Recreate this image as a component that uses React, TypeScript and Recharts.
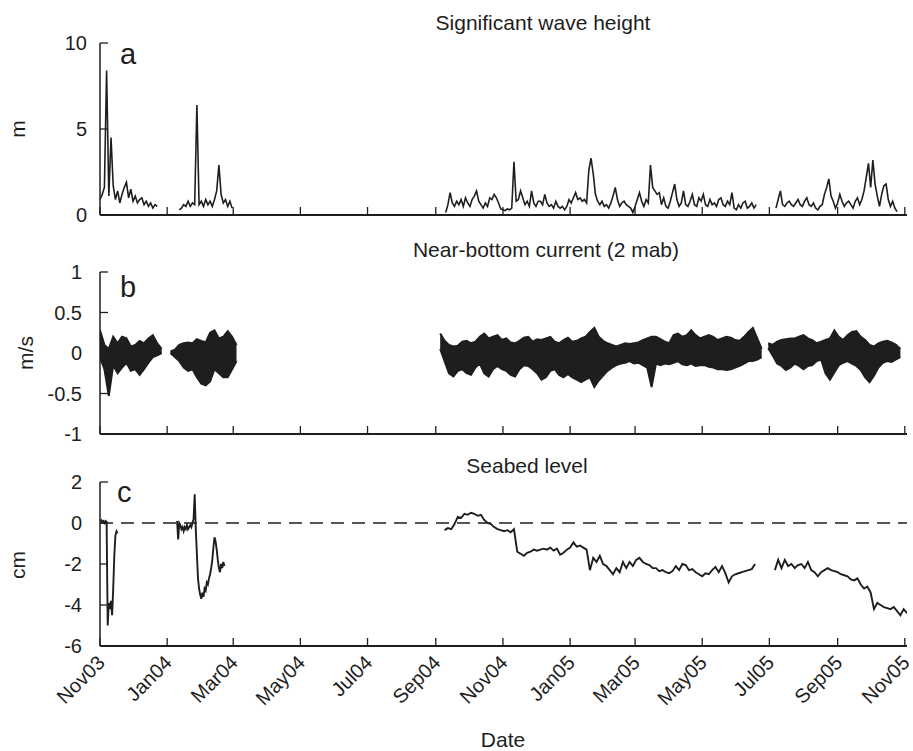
import React from 'react'
import { ComposedChart, Line, Area, XAxis, YAxis, ReferenceLine } from 'recharts'

const FONT = '"Liberation Sans", Arial, Helvetica, sans-serif'
const INK = '#1e1e1e'

// x axis: days since 1 Nov 2003
const dateTicks = [0, 61, 121, 182, 243, 305, 366, 427, 486, 547, 608, 670, 731]
const dateLabels = ['Nov03', 'Jan04', 'Mar04', 'May04', 'Jul04', 'Sep04', 'Nov04', 'Jan05', 'Mar05', 'May05', 'Jul05', 'Sep05', 'Nov05']

// (a) significant wave height, m — one value every 2 days per deployment
const waveStep = 2
const waveStarts = [0, 72, 314, 614]
const waveSeg1 = [0.9, 1.2, 1.6, 8.4, 1.1, 4.5, 1.7, 0.9, 1.4, 0.7, 1.2, 1.6, 1.9, 1.0, 1.5, 0.8, 1.1, 0.7, 0.9, 1.0, 0.6, 0.8, 0.5, 0.7, 0.4, 0.6, 0.5]
const waveSeg2 = [0.3, 0.4, 0.6, 0.5, 0.8, 0.5, 0.7, 0.6, 6.4, 0.6, 0.8, 0.5, 0.9, 0.6, 0.8, 0.5, 0.9, 1.4, 2.9, 1.2, 0.7, 0.9, 0.5, 0.8, 0.4]
const waveSeg3 = [
  0.15, 0.6, 1.3, 0.7, 0.5, 0.8, 0.6, 0.9, 0.5, 1.0, 0.7, 0.5, 0.9, 1.1, 1.4, 0.8, 0.6, 0.4, 0.7, 0.5,
  1.0, 0.9, 1.2, 1.0, 0.7, 0.35, 0.3, 0.25, 0.35, 0.3, 0.4, 3.1, 0.8, 0.9, 1.4, 1.0, 0.6, 0.8, 0.5, 1.4,
  0.7, 0.5, 0.8, 0.8, 0.6, 1.2, 0.7, 0.5, 0.6, 0.4, 0.8, 0.5, 0.4, 0.5, 0.3, 0.5, 0.9, 0.7, 1.0, 1.3,
  0.9, 1.0, 0.8, 0.9, 0.7, 2.6, 3.3, 2.4, 1.2, 0.8, 0.6, 0.8, 0.5, 0.6, 0.4, 0.7, 1.1, 1.6, 0.9, 0.5,
  0.7, 0.8, 0.6, 0.5, 0.4, 0.15, 0.5, 0.9, 1.3, 0.8, 0.5, 0.9, 0.7, 2.9, 1.6, 1.4, 1.2, 1.3, 0.6, 1.0,
  0.5, 0.4, 0.8, 1.3, 1.8, 0.9, 0.5, 0.7, 1.4, 0.6, 0.5, 0.8, 1.2, 0.6, 0.5, 1.0, 0.8, 1.2, 0.6, 0.5,
  0.9, 0.6, 0.7, 0.5, 0.9, 1.0, 0.6, 0.5, 0.8, 0.6, 1.3, 0.4, 0.3, 0.6, 0.4, 0.7, 0.8, 0.4, 0.5, 0.7,
  0.4, 0.6,
]
const waveSeg4 = [
  0.4, 0.9, 1.4, 0.6, 0.5, 0.7, 0.8, 0.6, 0.5, 0.7, 0.9, 0.6, 0.5, 0.8, 1.0, 0.6, 0.5, 0.7, 0.4, 0.3,
  0.5, 0.6, 1.2, 1.6, 2.1, 1.1, 0.8, 0.4, 0.7, 1.2, 0.8, 0.5, 0.7, 0.8, 0.6, 0.4, 0.8, 1.0, 0.6, 0.9,
  1.4, 2.2, 3.0, 1.6, 3.2, 1.8, 1.1, 0.5, 1.2, 1.7, 1.8, 0.9, 0.5, 0.8, 0.4, 0.2,
]

// (b) near-bottom current, m/s — envelope (min / max) every 4 days
const curStep = 4
const curStarts = [0, 64, 309, 607]
const curHi1 = [0.28, 0.1, 0.05, 0.2, 0.12, 0.2, 0.18, 0.08, 0.1, 0.15, 0.12, 0.18, 0.22, 0.12, 0.05]
const curLo1 = [-0.05, -0.2, -0.53, -0.15, -0.25, -0.18, -0.12, -0.22, -0.2, -0.27, -0.2, -0.12, -0.05, -0.03, 0.0]
const curHi2 = [0.02, 0.04, 0.1, 0.12, 0.13, 0.12, 0.17, 0.15, 0.13, 0.25, 0.28, 0.18, 0.2, 0.27, 0.2, 0.1]
const curLo2 = [0.0, -0.05, -0.1, -0.18, -0.22, -0.2, -0.3, -0.38, -0.4, -0.35, -0.2, -0.25, -0.3, -0.3, -0.2, -0.1]
const curHi3 = [
  0.24, 0.15, 0.1, 0.08, 0.09, 0.14, 0.15, 0.12, 0.14, 0.2, 0.24, 0.18, 0.2, 0.22, 0.16, 0.18, 0.13, 0.12, 0.15, 0.19,
  0.2, 0.14, 0.17, 0.16, 0.18, 0.2, 0.14, 0.12, 0.16, 0.19, 0.14, 0.15, 0.18, 0.2, 0.26, 0.31, 0.2, 0.15, 0.12, 0.1,
  0.08, 0.1, 0.12, 0.11, 0.12, 0.13, 0.16, 0.18, 0.2, 0.2, 0.17, 0.14, 0.12, 0.22, 0.24, 0.2, 0.22, 0.28, 0.22, 0.18,
  0.2, 0.22, 0.2, 0.16, 0.18, 0.2, 0.19, 0.16, 0.15, 0.2, 0.26, 0.31, 0.18, 0.05,
]
const curLo3 = [
  0.05, -0.1, -0.25, -0.29, -0.22, -0.2, -0.25, -0.27, -0.18, -0.13, -0.25, -0.29, -0.2, -0.16, -0.2, -0.22, -0.27, -0.29, -0.2, -0.15,
  -0.16, -0.2, -0.25, -0.33, -0.3, -0.22, -0.2, -0.27, -0.3, -0.26, -0.3, -0.33, -0.36, -0.33, -0.3, -0.42, -0.34, -0.28, -0.22, -0.18,
  -0.15, -0.13, -0.12, -0.1, -0.13, -0.12, -0.15, -0.18, -0.42, -0.13, -0.15, -0.13, -0.14, -0.12, -0.1, -0.14, -0.15, -0.13, -0.16, -0.15,
  -0.15, -0.17, -0.18, -0.2, -0.2, -0.21, -0.2, -0.18, -0.16, -0.13, -0.1, -0.1, -0.08, -0.05,
]
const curHi4 = [
  0.12, 0.1, 0.14, 0.16, 0.17, 0.18, 0.18, 0.2, 0.22, 0.18, 0.16, 0.12, 0.14, 0.16, 0.18, 0.28,
  0.2, 0.16, 0.22, 0.26, 0.27, 0.2, 0.16, 0.1, 0.08, 0.12, 0.14, 0.15, 0.13, 0.1, 0.05,
]
const curLo4 = [
  0.06, -0.03, -0.13, -0.16, -0.21, -0.18, -0.13, -0.16, -0.2, -0.16, -0.15, -0.1, -0.08, -0.25, -0.33, -0.24,
  -0.15, -0.12, -0.1, -0.13, -0.16, -0.21, -0.3, -0.36, -0.28, -0.18, -0.12, -0.1, -0.11, -0.08, -0.05,
]

// (c) seabed level, cm
const bedStarts = [0, 70, 313, 613]
const bedSteps = [1, 1, 3, 3]
const bedSeg1 = [0.1, 0.15, 0.05, 0.1, 0.0, 0.1, 0.05, -5.0, -3.9, -4.2, -3.8, -4.5, -3.2, -1.6, -0.6, -0.4, -0.5]
const bedSeg2 = [
  0.1, -0.8, 0.0, -0.1, -0.3, -0.2, -0.4, -0.2, -0.3, -0.1, -0.3, -0.2, -0.1, -0.2, 0.0, 0.2, 1.4, -0.3, -1.5, -2.7,
  -3.2, -3.5, -3.7, -3.4, -3.6, -3.2, -3.3, -2.9, -3.0, -2.7, -2.5, -2.2, -1.8, -1.2, -0.7, -0.9, -1.3, -1.8, -2.2, -2.4,
  -2.0, -2.2, -1.9, -2.1,
]
const bedSeg3 = [
  -0.35, -0.25, -0.3, -0.05, 0.3, 0.25, 0.45, 0.4, 0.5, 0.45, 0.35, 0.4, 0.15, 0.0, -0.05, -0.2, -0.3, -0.35, -0.4, -0.35,
  -0.45, -0.3, -1.4, -1.5, -1.6, -1.45, -1.4, -1.3, -1.35, -1.3, -1.25, -1.3, -1.2, -1.35, -1.25, -1.55, -1.45, -1.3, -1.2, -0.95,
  -1.15, -1.1, -1.2, -1.3, -2.3, -1.7, -1.9, -1.6, -2.0, -2.1, -2.3, -2.5, -2.2, -2.4, -1.9, -2.2, -1.9, -2.1, -1.8, -1.7,
  -1.9, -2.0, -2.05, -2.2, -2.2, -2.35, -2.3, -2.4, -2.45, -2.35, -2.1, -2.3, -2.0, -2.05, -2.3, -2.25, -2.4, -2.5, -2.6, -2.45,
  -2.5, -2.3, -2.15, -2.4, -2.1, -2.45, -2.9, -2.6, -2.5, -2.45, -2.4, -2.35, -2.3, -2.25, -2.0,
]
const bedSeg4 = [
  -2.3, -1.8, -2.2, -1.8, -2.1, -2.0, -2.2, -2.05, -2.0, -2.2, -1.9, -2.3, -2.4, -2.6, -2.4, -2.3, -2.2, -2.3, -2.35, -2.4,
  -2.5, -2.55, -2.6, -2.75, -2.8, -2.7, -3.0, -3.2, -3.1, -3.4, -4.2, -3.9, -4.0, -4.1, -4.15, -4.2, -4.1, -4.3, -4.5, -4.2,
  -4.4,
]

type Row = { day: number; [k: string]: number | number[] | null }

function joinLine(key: string, starts: number[], steps: number[], segs: number[][]): Row[] {
  const rows: Row[] = []
  segs.forEach((vals, k) => {
    if (k > 0) rows.push({ day: starts[k] - 1, [key]: null })
    vals.forEach((v, i) => rows.push({ day: starts[k] + i * steps[k], [key]: v }))
  })
  return rows
}

function joinBand(key: string, starts: number[], step: number, lows: number[][], highs: number[][]): Row[] {
  const rows: Row[] = []
  lows.forEach((lo, k) => {
    if (k > 0) rows.push({ day: starts[k] - 1, [key]: null })
    lo.forEach((v, i) => rows.push({ day: starts[k] + i * step, [key]: [v, highs[k][i]] }))
  })
  return rows
}

const waveData = joinLine('hs', waveStarts, waveStarts.map(() => waveStep), [waveSeg1, waveSeg2, waveSeg3, waveSeg4])
const curData = joinBand('band', curStarts, curStep, [curLo1, curLo2, curLo3, curLo4], [curHi1, curHi2, curHi3, curHi4])
const bedData = joinLine('level', bedStarts, bedSteps, [bedSeg1, bedSeg2, bedSeg3, bedSeg4])

const yTick = (gap: number) => (props: any) => {
  const { x, y, payload } = props
  return (
    <g>
      <line x1={x} y1={y} x2={x + 8} y2={y} stroke={INK} strokeWidth={1.3} />
      <text x={x - gap} y={y} dy="0.36em" textAnchor="end" fontSize={20} fill={INK} fontFamily={FONT}>
        {String(payload.value)}
      </text>
    </g>
  )
}

const xMark = (props: any) => {
  const { x, y } = props
  return <line x1={x} y1={y} x2={x} y2={y - 8} stroke={INK} strokeWidth={1.3} />
}

const xMarkLabel = (props: any) => {
  const { x, y, payload } = props
  const label = dateLabels[dateTicks.indexOf(payload.value)]
  return (
    <g>
      <line x1={x} y1={y} x2={x} y2={y - 8} stroke={INK} strokeWidth={1.3} />
      <text
        transform={`translate(${x + 6},${y + 18}) rotate(-45)`}
        textAnchor="end"
        fontSize={20}
        fill={INK}
        fontFamily={FONT}
      >
        {label}
      </text>
    </g>
  )
}

const xAxisProps = {
  type: 'number' as const,
  dataKey: 'day',
  domain: [0, 733],
  ticks: dateTicks,
  interval: 0,
  tickSize: 0,
  tickMargin: 0,
  tickLine: false,
  allowDataOverflow: true,
  axisLine: { stroke: INK, strokeWidth: 2.2 },
}

const yAxisProps = {
  type: 'number' as const,
  width: 100,
  interval: 0,
  tickSize: 0,
  tickMargin: 0,
  tickLine: false,
  allowDataOverflow: true,
  axisLine: { stroke: INK, strokeWidth: 1.5 },
}

export default function App() {
  return (
    <div style={{ position: 'absolute', left: 0, top: 0, width: 913, height: 751, background: '#fff' }}>
      <div style={{ position: 'absolute', left: 0, top: 0 }}>
        <ComposedChart width={913} height={230} data={waveData} margin={{ top: 43, right: 6, left: 0, bottom: 0 }}>
          <XAxis {...xAxisProps} height={15} tick={xMark} />
          <YAxis {...yAxisProps} domain={[0, 10]} ticks={[0, 5, 10]} tick={yTick(13)} />
          <Line type="linear" dataKey="hs" stroke={INK} strokeWidth={1.6} dot={false} activeDot={false} isAnimationActive={false} />
        </ComposedChart>
      </div>
      <div style={{ position: 'absolute', left: 0, top: 230 }}>
        <ComposedChart width={913} height={220} data={curData} margin={{ top: 42, right: 6, left: 0, bottom: 0 }}>
          <XAxis {...xAxisProps} height={16} tick={xMark} />
          <YAxis {...yAxisProps} domain={[-1, 1]} ticks={[-1, -0.5, 0, 0.5, 1]} tick={yTick(18)} />
          <Area type="linear" dataKey="band" stroke={INK} strokeWidth={2} fill={INK} fillOpacity={1} dot={false} activeDot={false} isAnimationActive={false} />
        </ComposedChart>
      </div>
      <div style={{ position: 'absolute', left: 0, top: 450 }}>
        <ComposedChart width={913} height={301} data={bedData} margin={{ top: 32, right: 6, left: 0, bottom: 0 }}>
          <XAxis {...xAxisProps} height={105} tick={xMarkLabel} />
          <YAxis {...yAxisProps} domain={[-6, 2]} ticks={[-6, -4, -2, 0, 2]} tick={yTick(18)} />
          <ReferenceLine y={0} stroke={INK} strokeWidth={1.5} strokeDasharray="13 8" />
          <Line type="linear" dataKey="level" stroke={INK} strokeWidth={1.9} dot={false} activeDot={false} isAnimationActive={false} />
        </ComposedChart>
      </div>
      <svg
        width={913}
        height={751}
        style={{ position: 'absolute', left: 0, top: 0, pointerEvents: 'none' }}
        fontFamily={FONT}
        fill={INK}
      >
        <text x={543} y={30} textAnchor="middle" fontSize={21}>Significant wave height</text>
        <text x={546} y={257} textAnchor="middle" fontSize={21}>Near-bottom current (2 mab)</text>
        <text x={527} y={473} textAnchor="middle" fontSize={21}>Seabed level</text>
        <text x={120} y={64} fontSize={29}>a</text>
        <text x={120} y={297} fontSize={29}>b</text>
        <text x={117} y={502} fontSize={29}>c</text>
        <text transform="translate(25,129) rotate(-90)" textAnchor="middle" fontSize={21}>m</text>
        <text transform="translate(33,353) rotate(-90)" textAnchor="middle" fontSize={21}>m/s</text>
        <text transform="translate(25,565) rotate(-90)" textAnchor="middle" fontSize={21}>cm</text>
        <text x={503} y={747} textAnchor="middle" fontSize={21}>Date</text>
      </svg>
    </div>
  )
}
